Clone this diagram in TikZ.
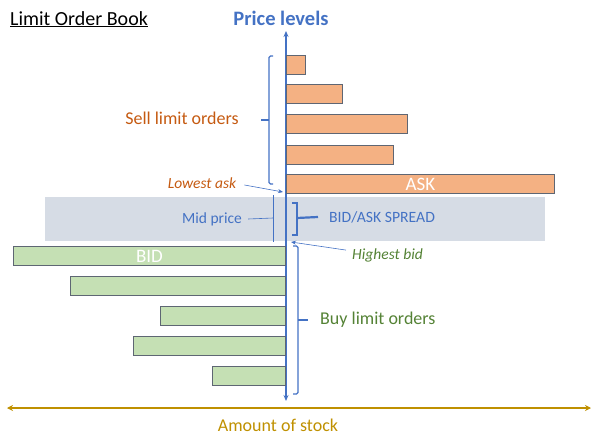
\documentclass[tikz,border=0pt]{standalone}
\usepackage{fontspec}
\setmainfont{Carlito}
\usetikzlibrary{arrows.meta}
\definecolor{axisblue}{HTML}{4472C4}
\definecolor{askfill}{HTML}{F4B183}
\definecolor{bidfill}{HTML}{C5E0B4}
\definecolor{bandfill}{HTML}{D6DCE5}
\definecolor{sellcol}{HTML}{C55A11}
\definecolor{buycol}{HTML}{548235}
\definecolor{goldcol}{HTML}{BF9000}
\definecolor{barline}{HTML}{5E6673}
\begin{document}
\begin{tikzpicture}[x=1pt,y=-1pt,
  askbar/.style={draw=barline, fill=askfill, line width=1pt, anchor=north west, inner sep=0pt, minimum height=19pt, text=white, font=\fontsize{19}{20}\selectfont},
  bidbar/.style={draw=barline, fill=bidfill, line width=1pt, anchor=north east, inner sep=0pt, minimum height=19pt, text=white, font=\fontsize{19}{20}\selectfont},
  lbl/.style={inner sep=0pt, font=\fontsize{18}{20}\selectfont},
  brace/.style={draw=axisblue, line width=1.2pt, rounded corners=1.5pt},
  thin/.style={draw=axisblue, line width=0.6pt},
  tip/.style={-{Stealth[length=5pt,width=4pt]}}
]
\useasboundingbox (0,0) rectangle (598,447);
% band
\node[fill=bandfill, inner sep=0pt, anchor=north west, minimum width=500pt, minimum height=44pt] (band) at (45,197) {};
% axes
\coordinate (axtop) at (286,31);
\coordinate (axbot) at (286,401);
\draw[axisblue, line width=1.2pt, {Stealth[length=6pt,width=5pt]}-{Stealth[length=6pt,width=5pt]}] (axtop) -- (axbot);
\coordinate (stl) at (7,408);
\coordinate (str) at (591,408);
\draw[goldcol, line width=1.5pt, {Stealth[length=6pt,width=6pt]}-{Stealth[length=6pt,width=6pt]}] (stl) -- (str);
% ask bars
\node[askbar, minimum width=19pt] (a1) at (286,55) {};
\node[askbar, minimum width=56pt] (a2) at (286,84) {};
\node[askbar, minimum width=121pt] (a3) at (286,114) {};
\node[askbar, minimum width=107pt] (a4) at (286,145) {};
\node[askbar, minimum width=268pt] (a5) at (286,174) {ASK};
% bid bars
\node[bidbar, minimum width=272pt] (b1) at (286,246) {BID};
\node[bidbar, minimum width=215pt] (b2) at (286,276) {};
\node[bidbar, minimum width=125pt] (b3) at (286,306) {};
\node[bidbar, minimum width=152pt] (b4) at (286,336) {};
\node[bidbar, minimum width=73pt] (b5) at (286,366) {};
% texts
\node[lbl, anchor=base west, font=\fontsize{20}{22}\selectfont] (title) at (10,25) {\underline{Limit Order Book}};
\node[lbl, text=axisblue, font=\fontsize{20.5}{22}\selectfont\bfseries] (plev) at (281,18) {Price levels};
\node[lbl, text=sellcol] (sell) at (182,118) {Sell limit orders};
\node[lbl, text=sellcol, font=\fontsize{15.5}{17}\selectfont\itshape] (lask) at (202,183) {Lowest ask};
\node[lbl, text=axisblue, font=\fontsize{15.5}{17}\selectfont] (mid) at (212,219) {Mid price};
\node[lbl, text=axisblue, font=\fontsize{15.7}{17}\selectfont, anchor=west] (spread) at (329,217) {BID/ASK SPREAD};
\node[lbl, text=buycol, font=\fontsize{15.5}{17}\selectfont\itshape, anchor=west] (hbid) at (352,255) {Highest bid};
\node[lbl, text=buycol, anchor=west] (buy) at (320,320) {Buy limit orders};
\node[lbl, text=goldcol] (stock) at (278,425) {Amount of stock};
% sell brace
\draw[brace] (a1.north west) ++(-13,1) coordinate (sbt) -- ++(-4,0) -- ++(0,64) coordinate (smid) -- ++(0,64) -- ++(4,0);
\draw[brace, rounded corners=0pt] (smid) -- ++(-8,0) coordinate (stick);
% buy brace
\draw[brace] (b1.north east) ++(7,0) -- ++(5,0) -- ++(0,74) coordinate (bmid) -- ++(0,74) -- ++(-5,0);
\draw[brace, rounded corners=0pt] (bmid) -- ++(10,0);
% spread brace
\draw[axisblue, line width=2.2pt] (a5.south west) ++(6,9) -- ++(5,0) -- ++(0,32) -- ++(-5,0);
\draw[axisblue, line width=2.2pt] (297,218) -- (spread.west -| 318,218);
% mid price lines
\draw[thin] (mid.east) ++(6,0) -- (273,218);
\draw[thin] (273,195) -- (273,242);
% pointers
\draw[thin, tip] (lask.east) ++(8,2) -- ([shift={(-3,-2)}]a5.south west);
\draw[thin, tip] (hbid.north west) ++(-6,2) -- (291,242);
\end{tikzpicture}
\end{document}
